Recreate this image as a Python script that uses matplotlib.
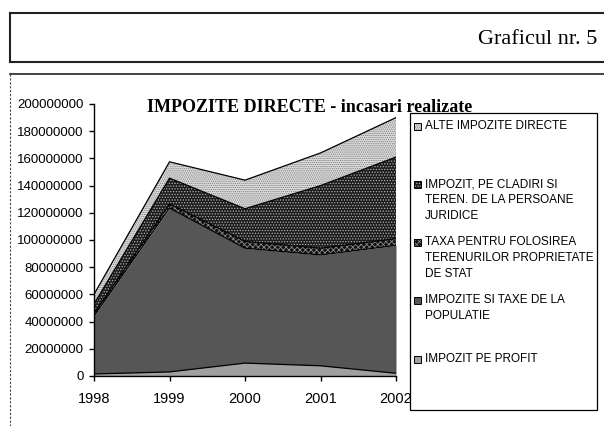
"""Stacked area chart: IMPOZITE DIRECTE - incasari realizate (Graficul nr. 5)."""

from matplotlib import pyplot as plt
from matplotlib.patches import Rectangle
from matplotlib.lines import Line2D
import numpy as np

years = [1998, 1999, 2000, 2001, 2002]

# values in lei (bottom layer first)
impozit_profit = [1500000, 3000000, 9500000, 7500000, 2000000]
impozite_populatie = [42500000, 120500000, 84500000, 81500000, 94000000]
taxa_terenuri = [2000000, 3000000, 5000000, 5000000, 5000000]
impozit_cladiri = [7000000, 19000000, 24000000, 46000000, 60000000]
alte_impozite = [7000000, 12000000, 21000000, 24000000, 29000000]

labels = [
    "IMPOZIT PE PROFIT",
    "IMPOZITE SI TAXE DE LA\nPOPULATIE",
    "TAXA PENTRU FOLOSIREA\nTERENURILOR PROPRIETATE\nDE STAT",
    "IMPOZIT, PE CLADIRI SI\nTEREN. DE LA PERSOANE\nJURIDICE",
    "ALTE IMPOZITE DIRECTE",
]

# face colour, hatch colour, hatch
styles = [
    ("#a0a0a0", "#a0a0a0", None),
    ("#565656", "#565656", None),
    ("#101010", "#8a8a8a", "xxxxxx"),
    ("#1c1c1c", "#b0b0b0", "......"),
    ("#dedede", "#7a7a7a", "........"),
]

W, H = 604, 426


def fx(px):
    return px / W


def fy(py):
    return 1 - py / H


plt.rcParams["font.family"] = ["Liberation Sans", "DejaVu Sans"]
plt.rcParams["hatch.linewidth"] = 0.6

fig = plt.figure(figsize=(W / 100, H / 100), dpi=100)

# header box with "Graficul nr. 5"
for (x0, y0, x1, y1) in [(10, 13, 610, 13), (10, 62, 610, 62), (10, 13, 10, 62)]:
    fig.add_artist(Line2D([fx(x0), fx(x1)], [fy(y0), fy(y1)], color="#222222", lw=1.5))
fig.text(fx(597), fy(40), "Graficul nr. 5", ha="right", va="center",
         fontsize=16, family="Liberation Serif")

# outer chart frame
fig.add_artist(Line2D([fx(10), fx(610)], [fy(74), fy(74)], color="#222222", lw=1.2))
fig.add_artist(Line2D([fx(10), fx(10)], [fy(74), fy(430)], color="#444444", lw=0.8,
                      linestyle=(0, (2, 1.5))))

ax = fig.add_axes([fx(94), fy(376), fx(396) - fx(94), fy(104) - fy(376)])

series = [impozit_profit, impozite_populatie, taxa_terenuri, impozit_cladiri, alte_impozite]
tops = np.cumsum(np.array(series, dtype=float), axis=0)
bottom = np.zeros(len(years))
for top, (face, hcol, hatch) in zip(tops, styles):
    ax.fill_between(years, bottom, top, facecolor=face, edgecolor=hcol,
                    hatch=hatch, linewidth=0)
    ax.plot(years, top, color="black", lw=0.9)
    bottom = top
ax.vlines(years[-1], 0, tops[-1][-1], color="black", lw=0.8, linestyle=(0, (1, 1)))

ax.set_xlim(years[0], years[-1])
ax.set_ylim(0, 200000000)
ax.set_xticks(years)
ax.set_yticks(np.arange(0, 200000001, 20000000))
ax.ticklabel_format(style="plain", axis="y", useOffset=False)
ax.spines["top"].set_visible(False)
ax.spines["right"].set_visible(False)
ax.spines["left"].set_linewidth(1)
ax.spines["bottom"].set_linewidth(1)
ax.tick_params(axis="y", direction="out", length=3.5, width=1, pad=4, labelsize=9.5)
ax.tick_params(axis="x", direction="out", length=3.5, width=1, pad=8, labelsize=10.5)
ax.patch.set_visible(False)

fig.text(fx(310), fy(107), "IMPOZITE DIRECTE - incasari realizate", ha="center",
         va="center", fontsize=13, fontweight="bold", family="Liberation Serif",
         zorder=10)

# legend box (entries listed top layer first)
fig.add_artist(Rectangle((fx(410), fy(410)), fx(597) - fx(410), fy(113) - fy(410),
                         facecolor="white", edgecolor="black", lw=0.9, zorder=5))
entry_y = [126, 184, 242, 300, 359]
for yy, lab, (face, hcol, hatch) in zip(entry_y, labels[::-1], styles[::-1]):
    fig.add_artist(Rectangle((fx(414), fy(yy + 4)), fx(7), 7 / H, facecolor=face,
                             edgecolor=hcol, hatch=hatch, lw=0, zorder=6))
    fig.add_artist(Rectangle((fx(414), fy(yy + 4)), fx(7), 7 / H, facecolor="none",
                             edgecolor="black", lw=0.7, zorder=7))
    fig.text(fx(425), fy(yy - 6), lab, ha="left", va="top", fontsize=8.5,
             linespacing=1.45, zorder=7)

fig.savefig("out.png", dpi=100)
